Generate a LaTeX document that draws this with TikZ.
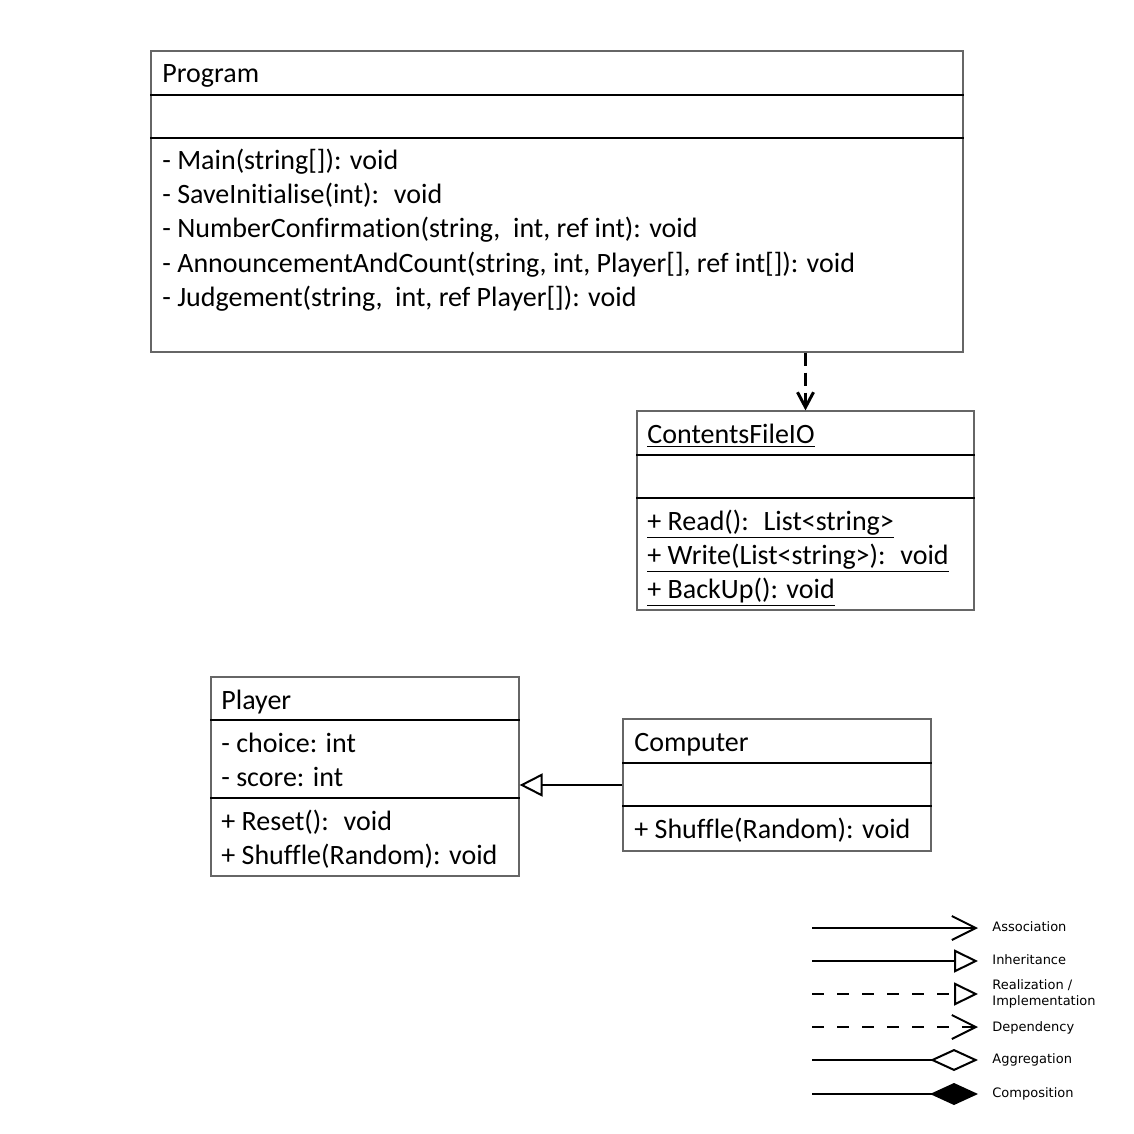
\documentclass[tikz,border=0pt]{standalone}
\usepackage{fontspec}
\setmainfont[Ligatures=NoCommon]{Carlito}
\newfontfamily\legendfont{DejaVu Sans}
\usetikzlibrary{arrows.meta}

\tikzset{
	classbox/.style={draw=gray!80!black, line width=0.6pt, inner sep=0pt},
	member/.style={anchor=base west, inner sep=0pt, font=\fontsize{14}{16}\selectfont},
	divider/.style={line width=0.6pt},
	legendtext/.style={anchor=west, inner sep=0pt, align=left, font=\legendfont\fontsize{6.5}{8}\selectfont},
	legendline/.style={line width=1pt},
}

\begin{document}
\begin{tikzpicture}[x=0.5pt, y=-0.5pt]
	\useasboundingbox (0,0) rectangle (1134,1134);

	% Program class
	\node[classbox, minimum width=406pt, minimum height=150.5pt] (prog) at (557, 201.5) {};
	\draw[divider] (prog.west |- 0,95) -- (prog.east |- 0,95);
	\draw[divider] (prog.west |- 0,138) -- (prog.east |- 0,138);
	\node[member] (progname) at (162, 83) {Program};
	\node[member] (pm1) at (162, 170) {- Main(string[]): void};
	\node[member] (pm2) at (162, 204) {- SaveInitialise(int): \ void};
	\node[member] (pm3) at (162, 238) {- NumberConfirmation(string, \ int, ref int): void};
	\node[member] (pm4) at (162, 272) {- AnnouncementAndCount(string, int, Player[], ref int[]): void};
	\node[member] (pm5) at (162, 306) {- Judgement(string, \ int, ref Player[]): void};

	% ContentsFileIO class
	\node[classbox, minimum width=168.5pt, minimum height=99.5pt] (cfio) at (805.5, 510.5) {};
	\draw[divider] (cfio.west |- 0,455) -- (cfio.east |- 0,455);
	\draw[divider] (cfio.west |- 0,498) -- (cfio.east |- 0,498);
	\node[member] (cfioname) at (647, 443) {\underline{ContentsFileIO}};
	\node[member] (cm1) at (647, 530) {\underline{+ Read(): \ List<string>}};
	\node[member] (cm2) at (647, 564) {\underline{+ Write(List<string>): \ void}};
	\node[member] (cm3) at (647, 598) {\underline{+ BackUp(): void}};

	% Player class
	\node[classbox, minimum width=154pt, minimum height=99.5pt] (player) at (365, 776.5) {};
	\draw[divider] (player.west |- 0,720) -- (player.east |- 0,720);
	\draw[divider] (player.west |- 0,798) -- (player.east |- 0,798);
	\node[member] (playername) at (221, 709) {Player};
	\node[member] (pa1) at (221, 752) {- choice: int};
	\node[member] (pa2) at (221, 786) {- score: int};
	\node[member] (plm1) at (221, 830) {+ Reset(): \ void};
	\node[member] (plm2) at (221, 864) {+ Shuffle(Random): void};

	% Computer class
	\node[classbox, minimum width=154pt, minimum height=66pt] (comp) at (777, 785) {};
	\draw[divider] (comp.west |- 0,763) -- (comp.east |- 0,763);
	\draw[divider] (comp.west |- 0,806) -- (comp.east |- 0,806);
	\node[member] (compname) at (634, 751) {Computer};
	\node[member] (com1) at (634, 838) {+ Shuffle(Random): void};

	% relations
	\draw[line width=1.5pt, dash pattern=on 6.5pt off 3.5pt, -{Straight Barb[length=7.5pt, width=8pt]}] (prog.south -| cfio.north) -- (cfio.north);
	\draw[line width=1pt, -{Triangle[open, length=11.5pt, width=11.5pt]}] (comp.west) -- (comp.west -| player.east);

	% legend
	\foreach \i/\y in {1/928, 2/961, 3/994, 4/1027, 5/1060, 6/1094} {
		\coordinate (ls\i) at (812, \y);
		\coordinate (le\i) at (978, \y);
	}
	\draw[legendline, -{Straight Barb[length=12pt, width=12pt]}] (ls1) -- (le1);
	\draw[legendline, -{Triangle[open, length=12pt, width=11.5pt]}] (ls2) -- (le2);
	\draw[legendline, dash pattern=on 6pt off 6.5pt, -{Triangle[open, length=12pt, width=11.5pt]}] (ls3) -- (le3);
	\draw[legendline, dash pattern=on 6pt off 6.5pt, -{Straight Barb[length=12pt, width=12pt]}] (ls4) -- (le4);
	\draw[legendline, -{Diamond[open, length=24pt, width=11pt]}] (ls5) -- (le5);
	\draw[legendline, -{Diamond[length=24pt, width=11pt]}] (ls6) -- (le6);

	\node[legendtext] (assoc) at (992, 927) {Association};
	\node[legendtext] (inher) at (992, 960) {Inheritance};
	\node[legendtext] (real) at (992, 994) {Realization /\\Implementation};
	\node[legendtext] (dep) at (992, 1028) {Dependency};
	\node[legendtext] (aggr) at (992, 1060) {Aggregation};
	\node[legendtext] (compo) at (992, 1094) {Composition};
\end{tikzpicture}
\end{document}
